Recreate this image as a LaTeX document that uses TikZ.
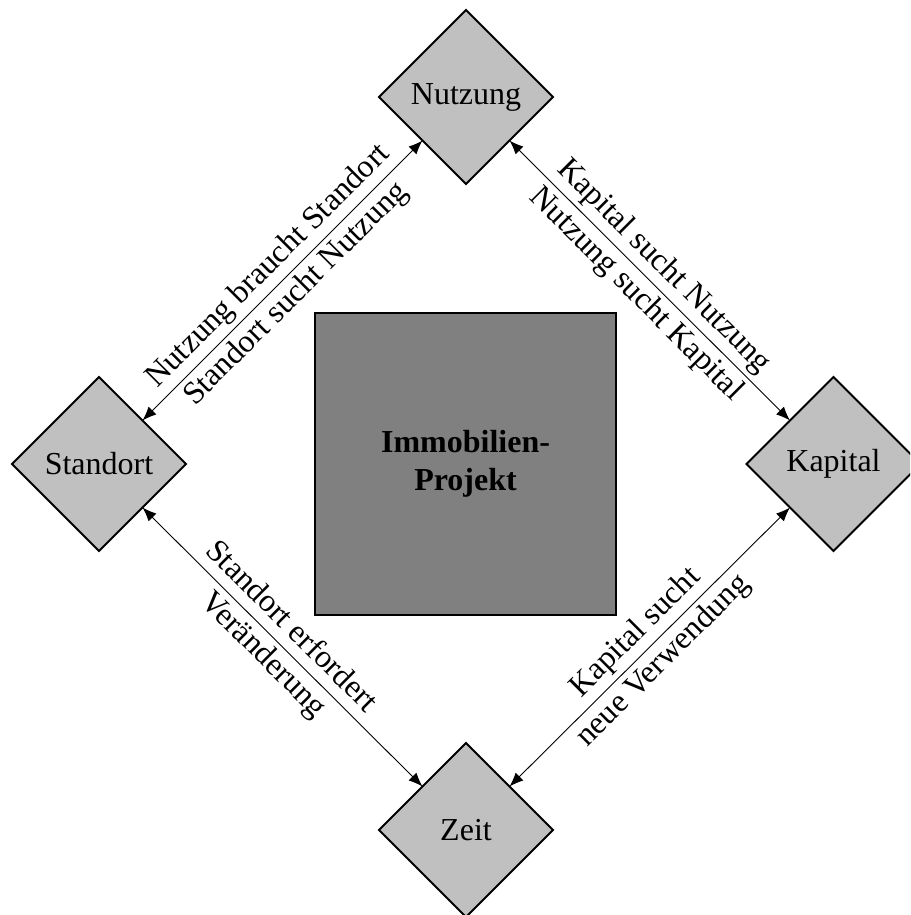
\documentclass[tikz,border=0pt]{standalone}
\usepackage{fontspec}
\setmainfont{Liberation Serif}
\usetikzlibrary{shapes.geometric,arrows.meta}
\definecolor{dlight}{HTML}{C0C0C0}
\definecolor{sqgray}{HTML}{808080}
\begin{document}
\begin{tikzpicture}[x=1pt,y=-1pt,
  diabox/.style={shape=diamond, aspect=1, draw=black, line width=1.8pt, fill=dlight,
    minimum width=174pt, minimum height=174pt, inner sep=0pt, outer sep=0pt,
    font=\fontsize{32}{38}\selectfont},
  centerbox/.style={shape=rectangle, draw=black, line width=2pt, fill=sqgray,
    minimum width=301pt, minimum height=302pt, inner sep=0pt, outer sep=0pt,
    align=center, font=\fontsize{32}{38}\selectfont\bfseries},
  link/.style={line width=0.9pt, {Latex[length=14pt,width=11pt]}-{Latex[length=14pt,width=11pt]}},
  lbl/.style={align=center, inner sep=0pt, font=\fontsize{32}{39.5}\selectfont}]
\useasboundingbox (0,0) rectangle (910,915);
\clip (0,0) rectangle (910,915);
\node[centerbox] (P) at (465.5,464) {Immobilien-\\Projekt};
\node[diabox] (N) at (466,97) {Nutzung};
\node[diabox] (S) at (99,464) {Standort};
\node[diabox] (K) at (833.5,464) {Kapital};
\node[diabox] (Z) at (466,830) {Zeit};
\draw[link] (S.north east) -- (N.south west)
  node[lbl, midway, sloped] (l1) {Nutzung braucht Standort\\Standort sucht Nutzung};
\draw[link] (N.south east) -- (K.north west)
  node[lbl, midway, sloped] (l2) {Kapital sucht Nutzung\\Nutzung sucht Kapital};
\draw[link] (S.south east) -- (Z.north west)
  node[lbl, midway, sloped, xshift=-8pt] (l3) {Standort erfordert\\Veränderung};
\draw[link] (Z.north east) -- (K.south west)
  node[lbl, midway, sloped] (l4) {Kapital sucht\\neue Verwendung};
\end{tikzpicture}
\end{document}
